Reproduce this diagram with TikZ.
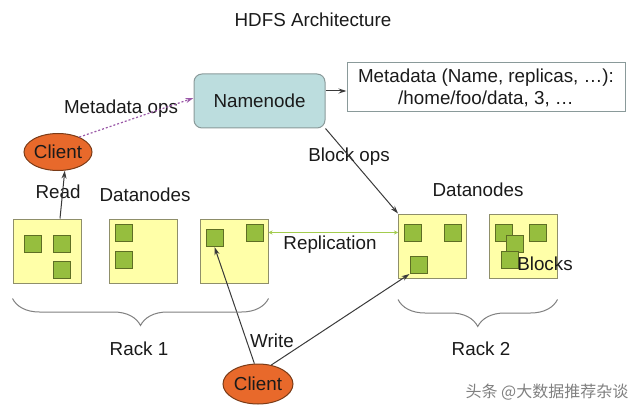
\documentclass[tikz,border=0pt]{standalone}
\usepackage{fontspec}
\setmainfont{Liberation Sans}
\newfontfamily\cjk{Noto Sans CJK SC}
\usepackage{tikz}
\usetikzlibrary{arrows,arrows.meta,shapes.geometric,decorations.pathreplacing}
\definecolor{nnfill}{HTML}{BCDDDE}
\definecolor{nnline}{HTML}{8A9A9A}
\definecolor{rackfill}{HTML}{FFFFA8}
\definecolor{rackline}{HTML}{8F8F6A}
\definecolor{blkfill}{HTML}{96BE3E}
\definecolor{blkline}{HTML}{5E6E24}
\definecolor{clientfill}{HTML}{E8692B}
\definecolor{clientline}{HTML}{7A3B17}
\definecolor{mdcol}{HTML}{9B59A8}
\definecolor{repcol}{HTML}{A3CC4E}
\definecolor{linecol}{HTML}{3A3A3A}
\definecolor{txtcol}{HTML}{1A1A1A}
\tikzset{>={Stealth[length=8pt,width=5pt]},font=\fontsize{18.8}{22}\selectfont}
\tikzset{
  rack/.style={draw=rackline,fill=rackfill,line width=1pt,minimum width=68pt,minimum height=64pt,inner sep=0pt},
  blk/.style={draw=blkline,fill=blkfill,line width=1pt,minimum size=17pt,inner sep=0pt},
  client/.style={ellipse,draw=clientline,fill=clientfill,line width=1pt,minimum width=68pt,minimum height=37pt,inner sep=0pt},
  rbrace/.style={decorate,decoration={brace,mirror,amplitude=27pt},draw=gray,line width=1pt}
}

\begin{document}
\begin{tikzpicture}[x=1pt,y=-1pt,text=txtcol]
\useasboundingbox (0,0) rectangle (640,409);
\node (T) at (313,20) {HDFS Architecture};
\node[draw=nnline,fill=nnfill,line width=1pt,rounded corners=8pt,minimum width=131pt,minimum height=54pt] (NN) at (259.5,101) {Namenode};
\node[draw=nnline,line width=1pt,align=center,minimum width=278pt,minimum height=49pt,inner sep=0pt] (MD) at (486,87.5) {Metadata (Name, replicas, …):\\/home/foo/data, 3, …};
\node[client] (C1) at (58,152) {Client};
\node[client,minimum width=70pt,minimum height=40pt] (C2) at (258,384) {Client};
% datanodes
\node[rack] (A) at (47,251) {};
\node[rack] (B) at (143,251) {};
\node[rack] (C) at (234,251) {};
\node[rack] (D) at (432.5,246) {};
\node[rack] (E) at (523,246) {};
% blocks
\foreach \x/\y [count=\i] in {33/244,61.5/244,61.5/270,123.5/232.5,123.5/260,214.5/238,254.5/232.5,
  413/232.5,452.5/232.5,418.5/265,503.5/232.5,515/243.5,509.5/260,537.5/232.5}
  \node[blk] (b\i) at (\x,\y) {};
% labels
\node (mo) at (121,109) {Metadata ops};
\node (bo) at (349,157) {Block ops};
\node (dn1) at (145,195) {Datanodes};
\node (dn2) at (478,190) {Datanodes};
\node (rd) at (58,192) {Read};
\node (rp) at (330,245) {Replication};
\node (bl) at (545,264) {Blocks};
\node (r1) at (139,349) {Rack 1};
\node (r2) at (481,349) {Rack 2};
\node (wr) at (272,341) {Write};
\node[font=\cjk\fontsize{16}{18}\selectfont,text=gray] (wm) at (547,392) {头条 @大数据推荐杂谈};
% connectors
\draw[->,linecol,line width=1pt] ([yshift=-3.5pt]NN.east |- MD.west) -- ([yshift=-3.5pt]MD.west);
\draw[->,mdcol,line width=1.2pt,dash pattern=on 2pt off 2pt] (C1.35) -- ([yshift=3pt]NN.west);
\draw[->,linecol,line width=1pt] (NN.south east) -- (D.north west);
\draw[->,linecol,line width=1pt] ([xshift=13pt]A.north) -- (C1.290);
\draw[->,linecol,line width=1pt] (C2.100) -- (b6.south);
\draw[->,linecol,line width=1pt] (C2.55) -- (b10.south west);
\draw[{Stealth[length=4pt,width=4pt]}-{Stealth[length=4pt,width=4pt]},repcol,line width=1.2pt] (C.east |- b7) -- (D.west |- b7);
% racks
\draw[rbrace] ([yshift=-15pt]A.south west) -- ([yshift=-15pt]C.south east);
\draw[rbrace] ([yshift=-21pt]D.south west) -- ([yshift=-21pt]E.south east);
\end{tikzpicture}
\end{document}
